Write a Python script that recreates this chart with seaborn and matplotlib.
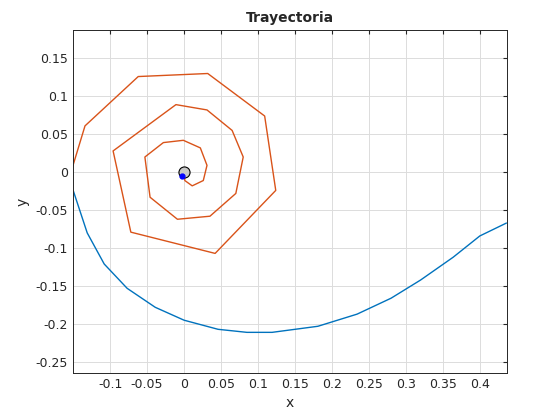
import numpy as np
import matplotlib
matplotlib.use("Agg")
import matplotlib.pyplot as plt
import seaborn as sns

# blue trajectory
blue_x = [-0.150, -0.131, -0.108, -0.077, -0.039, 0.0, 0.046, 0.085, 0.119, 0.181,
          0.234, 0.280, 0.320, 0.364, 0.400, 0.436]
blue_y = [-0.024, -0.080, -0.121, -0.153, -0.178, -0.195, -0.207, -0.211, -0.211, -0.203,
          -0.187, -0.166, -0.142, -0.112, -0.084, -0.067]

# orange spiral
orange_x = [-0.153, -0.134, -0.062, 0.032, 0.109, 0.124, 0.042, -0.072, -0.096, -0.011,
            0.031, 0.065, 0.080, 0.070, 0.035, -0.009, -0.046, -0.053, -0.028, -0.001,
            0.022, 0.031, 0.026, 0.011, 0.001, 0.0]
orange_y = [0.0, 0.061, 0.126, 0.130, 0.074, -0.024, -0.107, -0.079, 0.028, 0.089,
            0.082, 0.055, 0.020, -0.028, -0.058, -0.062, -0.033, 0.020, 0.039, 0.042,
            0.032, 0.009, -0.011, -0.018, -0.011, 0.0]

sns.set_style("white")
fig, ax = plt.subplots(figsize=(5.6, 4.2), dpi=100)
fig.subplots_adjust(left=0.13, right=0.905, top=0.928, bottom=0.112)

sns.lineplot(x=orange_x, y=orange_y, sort=False, estimator=None, color="#D95319", lw=1, ax=ax)
sns.lineplot(x=blue_x, y=blue_y, sort=False, estimator=None, color="#0072BD", lw=1, ax=ax)
ax.plot([0], [0], "o", ms=8, mfc="#c8c8c8", mec="k", mew=0.8)
ax.plot([-0.003], [-0.005], "o", ms=3.5, color="blue")

ax.set_xlim(-0.1505, 0.4365)
ax.set_ylim(-0.2645, 0.187)
ax.set_xticks(np.arange(-0.1, 0.41, 0.05))
ax.set_xticklabels(["-0.1", "-0.05", "0", "0.05", "0.1", "0.15", "0.2", "0.25", "0.3", "0.35", "0.4"])
ax.set_yticks(np.arange(-0.25, 0.16, 0.05))
ax.set_yticklabels(["-0.25", "-0.2", "-0.15", "-0.1", "-0.05", "0", "0.05", "0.1", "0.15"])
ax.grid(True, color="#dcdcdc", lw=0.7)
ax.tick_params(labelsize=9, direction="in", top=True, right=True, length=3, colors="#262626")
for s in ax.spines.values():
    s.set_color("#262626")
    s.set_linewidth(0.7)
ax.set_xlabel("x", fontsize=10)
ax.set_ylabel("y", fontsize=10)
ax.set_title("Trayectoria", fontsize=10, fontweight="bold")
plt.savefig("out.png", dpi=100)
